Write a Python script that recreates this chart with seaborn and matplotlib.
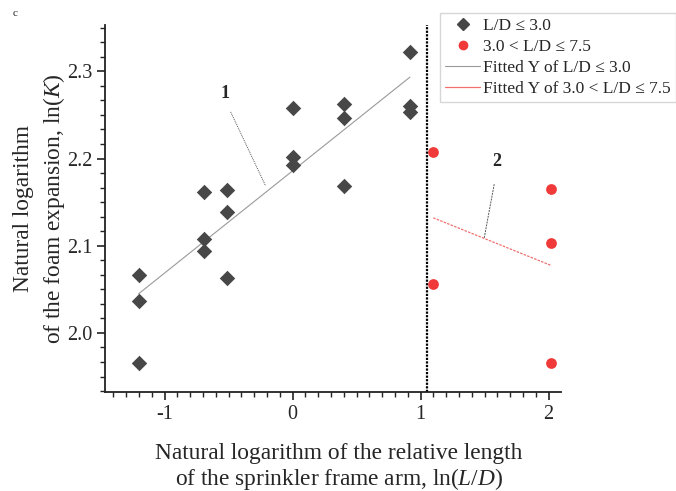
import numpy as np
import pandas as pd
import matplotlib
matplotlib.use("Agg")
import matplotlib.pyplot as plt
from matplotlib.ticker import MultipleLocator, AutoMinorLocator
from matplotlib.lines import Line2D
import seaborn as sns

# ln(L/D) and ln(K) for the two frame-arm length ranges
x_short = [-1.204, -1.204, -1.204, -0.693, -0.693, -0.693, -0.511, -0.511, -0.511,
           0.0, 0.0, 0.0, 0.405, 0.405, 0.405, 0.916, 0.916, 0.916]
y_short = [2.067, 2.037, 1.965, 2.162, 2.108, 2.094, 2.164, 2.139, 2.063,
           2.258, 2.202, 2.193, 2.262, 2.246, 2.169, 2.322, 2.260, 2.253]
x_long = [1.099, 1.099, 2.015, 2.015, 2.015]
y_long = [2.208, 2.056, 2.165, 2.103, 1.965]

legend_labels = ["L/D ≤ 3.0", "3.0 < L/D ≤ 7.5",
                 "Fitted Y of L/D ≤ 3.0", "Fitted Y of 3.0 < L/D ≤ 7.5"]
boundary_x = 1.05

sns.set_style("ticks")
plt.rcParams["font.family"] = ["Liberation Serif", "DejaVu Serif"]
plt.rcParams["mathtext.fontset"] = "custom"
plt.rcParams["mathtext.rm"] = "Liberation Serif"
plt.rcParams["mathtext.it"] = "Liberation Serif:italic"

df_s = pd.DataFrame({"x": x_short, "y": y_short})
df_l = pd.DataFrame({"x": x_long, "y": y_long})

# least-squares fits for each group
ps = np.polyfit(x_short, y_short, 1)
pl = np.polyfit(x_long, y_long, 1)
fx_s = np.array([min(x_short), max(x_short)])
fx_l = np.array([min(x_long), max(x_long)])
fit_s = pd.DataFrame({"x": fx_s, "y": np.polyval(ps, fx_s)})
fit_l = pd.DataFrame({"x": fx_l, "y": np.polyval(pl, fx_l)})

fig = plt.figure(figsize=(6.76, 4.91), dpi=100)
ax = fig.add_axes([0.1553, 0.2016, 0.6746, 0.7474])

dark = "#474747"
red = "#f03a3a"

sns.lineplot(data=fit_s, x="x", y="y", ax=ax, color="#9a9a9a", lw=0.8, zorder=2)
sns.lineplot(data=fit_l, x="x", y="y", ax=ax, color="#f07070", lw=0.9,
             linestyle=(0, (2, 1)), zorder=2)
sns.scatterplot(data=df_s, x="x", y="y", ax=ax, marker="D", s=62, color=dark,
                edgecolor=dark, linewidth=0, zorder=3)
sns.scatterplot(data=df_l, x="x", y="y", ax=ax, marker="o", s=60, color=red,
                edgecolor=red, linewidth=0, zorder=3)

ax.axvline(boundary_x, color="black", lw=1.6, linestyle=(0, (1, 0.6)), zorder=1)

# curve labels with leader lines
ax.text(-0.529, 2.274, "1", fontsize=13, fontweight="bold", ha="center", va="center")
ax.plot([-0.484, -0.211], [2.2534, 2.1686], color="#555555", lw=0.7,
        linestyle=(0, (1, 1)))
ax.text(1.594, 2.197, "2", fontsize=13, fontweight="bold", ha="center", va="center")
ax.plot([1.575, 1.497], [2.1705, 2.109], color="#555555", lw=0.7,
        linestyle=(0, (2, 1)))

ax.set_xlim(-1.466, 2.097)
ax.set_ylim(1.9323, 2.353)
ax.xaxis.set_major_locator(MultipleLocator(1))
ax.xaxis.set_minor_locator(MultipleLocator(0.1))
ax.yaxis.set_major_locator(MultipleLocator(0.1))
ax.yaxis.set_minor_locator(AutoMinorLocator(6))
ax.set_xticks([-1, 0, 1, 2])
ax.set_xticklabels(["-1", "0", "1", "2"])
ax.set_yticks([2.0, 2.1, 2.2, 2.3])
ax.set_yticklabels(["2.0", "2.1", "2.2", "2.3"])
ax.tick_params(axis="both", which="major", length=6, width=1.2, labelsize=14.5,
               direction="out", color="#222222", pad=3)
ax.tick_params(axis="both", which="minor", length=3.5, width=1.0, direction="out",
               color="#222222")
for side in ["top", "right"]:
    ax.spines[side].set_visible(False)
for side in ["left", "bottom"]:
    ax.spines[side].set_linewidth(1.3)
    ax.spines[side].set_color("#222222")

ax.set_xlabel("Natural logarithm of the relative length\nof the sprinkler frame arm, ln($\\it{L/D}$)",
              fontsize=16.8, labelpad=14, linespacing=1.1)
ax.xaxis.label.set_x(0.513)
ax.set_ylabel("Natural logarithm\nof the foam expansion, ln($\\it{K}$)",
              fontsize=16.8, labelpad=0, linespacing=1.35)

fig.text(0.018, 0.972, "c", fontsize=8, ha="left", va="center")

handles = [
    Line2D([], [], marker="D", color=dark, linestyle="none", markersize=6),
    Line2D([], [], marker="o", color=red, linestyle="none", markersize=6),
    Line2D([], [], color="#9a9a9a", lw=0.8),
    Line2D([], [], color="#f07070", lw=0.9),
]
leg = fig.legend(handles, legend_labels, loc="upper left",
                 bbox_to_anchor=(0.651, 0.9735), fontsize=12.5, frameon=True,
                 fancybox=False, edgecolor="#cccccc", handlelength=2.0,
                 handletextpad=0.2, labelspacing=0.27, borderpad=0.3,
                 borderaxespad=0)
leg.get_frame().set_linewidth(1.0)

fig.savefig("out.png", dpi=100)
